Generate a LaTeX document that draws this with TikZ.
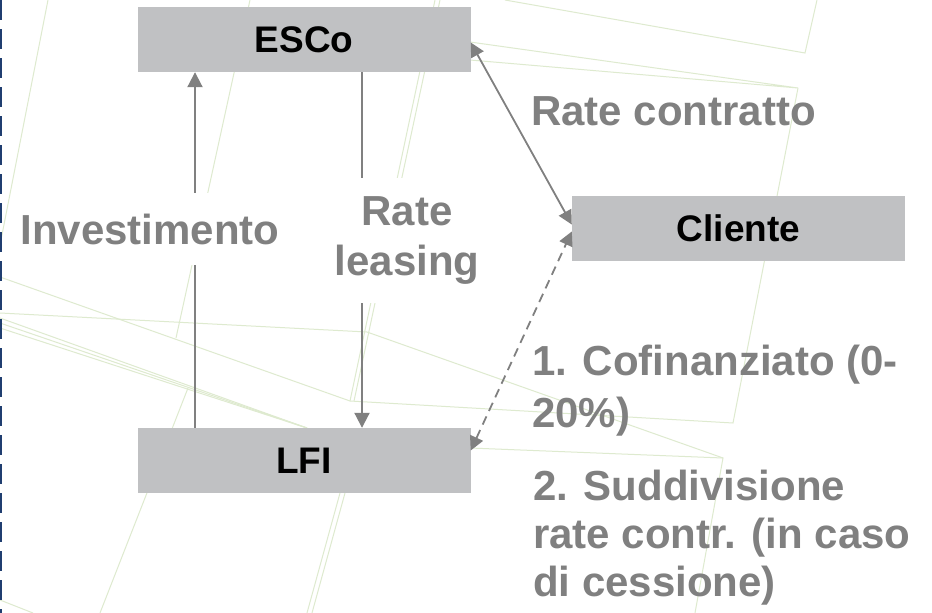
\documentclass[tikz,border=0pt]{standalone}
\usepackage{fontspec}
\setmainfont{Liberation Sans}
\usepackage{tikz}
\usetikzlibrary{arrows.meta,positioning}

\definecolor{boxgray}{RGB}{192,193,195}
\definecolor{txtgray}{RGB}{128,128,128}
\definecolor{bggreen}{RGB}{222,234,207}
\definecolor{edgeblue}{RGB}{32,62,112}

\begin{document}
\begin{tikzpicture}[x=1pt,y=1pt,
    box/.style={fill=boxgray,minimum width=333pt,minimum height=65pt,inner sep=0pt,
      font=\fontsize{37}{44}\selectfont\bfseries},
    lbl/.style={text=txtgray,inner sep=0pt,font=\fontsize{42}{50}\selectfont\bfseries},
    bg/.style={draw=bggreen,line width=1pt},
    flow/.style={draw=txtgray,line width=2pt,>={Triangle[length=15pt,width=15pt]}},
    link/.style={draw=txtgray,line width=1.8pt,>={Triangle[length=14pt,width=14pt]}}]
  \useasboundingbox[fill=white] (0,0) rectangle (932,-613);

  % background
  \draw[bg] (48,0) -- (0,-245);
  \draw[bg] (250,0) -- (176,-338);
  \draw[bg] (188,-388) -- (100,-613);
  \draw[bg] (435,0) -- (350,-401);
  \draw[bg] (440,0) -- (354,-401);
  \draw[bg] (0,-277) -- (350,-401) -- (733,-423) -- (798,-88);
  \draw[bg] (0,-313) -- (367,-332) -- (723,-458) -- (695,-613);
  \draw[bg] (0,-318) -- (307,-428);
  \draw[bg] (0,-323) -- (307,-428);
  \draw[bg] (0,-328) -- (307,-428);
  \draw[bg] (470,-42) -- (798,-88) -- (470,-60);
  \draw[bg] (505,0) -- (805,-53) -- (817,0);
  \draw[bg] (723,-458) -- (470,-448);
  \draw[bg] (340,-493) -- (307,-613);
  \draw[bg] (345,-493) -- (312,-613);
  \draw[bg] (0,-600) -- (33,-613);
  \draw[edgeblue,line width=2.5pt,dash pattern=on 20pt off 9pt] (1,0) -- (1,-613);

  \node[box] (esco) at (304,-39.5) {ESCo};
  \node[box, node distance=421pt, below of=esco] (lfi) {LFI};
  \node[box, node distance=434.5pt, right of=esco, yshift=-189pt] (cliente) {Cliente};

  \draw[flow,->] ([xshift=-109pt]lfi.north) -- ([xshift=-109pt]esco.south);
  \draw[flow,->] ([xshift=58pt]esco.south) -- ([xshift=58pt]lfi.north);
  \draw[link,<->] ([yshift=-3pt]esco.east) -- ([yshift=4pt]cliente.west);
  \draw[link,<->,dash pattern=on 9pt off 6pt] ([yshift=10pt]lfi.east) -- ([yshift=-3pt]cliente.west);

  \node[lbl, fill=white, minimum height=72pt, inner xsep=8pt] (invest) at (150,-229) {Investimento};
  \node[lbl, fill=white, align=center, minimum height=125pt, inner xsep=6pt] (leasing) at (407,-240) {Rate\\leasing};
  \node[lbl, anchor=base west] (contratto) at (531,-125) {Rate contratto};
  \node[lbl, anchor=base west, align=left, font=\fontsize{42}{52}\selectfont\bfseries] (cofin) at (532,-427) {1. Cofinanziato (0-\\20\%)};
  \node[lbl, anchor=base west, align=left, font=\fontsize{42}{48}\selectfont\bfseries] (suddiv) at (533,-596) {2. Suddivisione\\rate contr. (in caso\\di cessione)};
\end{tikzpicture}
\end{document}
